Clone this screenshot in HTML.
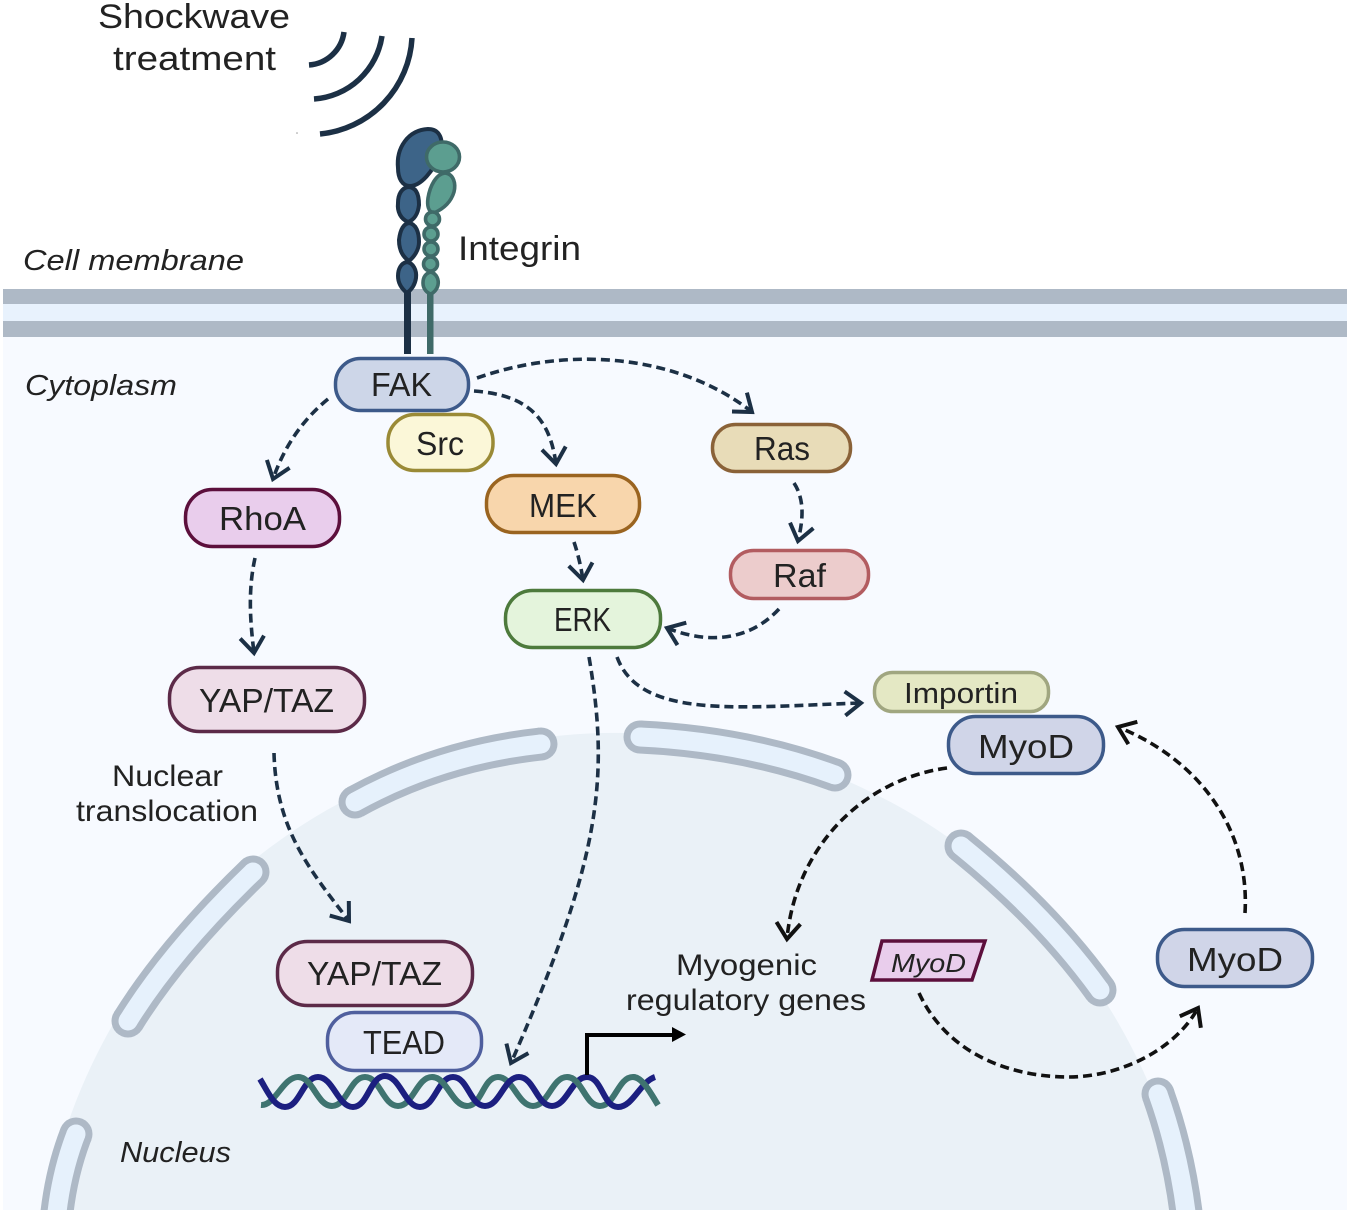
<!DOCTYPE html>
<html><head><meta charset="utf-8"><style>
html,body{margin:0;padding:0;background:#fff;width:1350px;height:1214px;overflow:hidden}
svg{display:block;overflow:hidden}
text{font-family:"Liberation Sans",sans-serif;fill:#222}
.i{font-style:italic}
.n{stroke-width:3.5}
.a{fill:none;stroke:#1c3045;stroke-width:3.6;stroke-dasharray:9 5}
.b{stroke:#111}
.po{fill:none;stroke:#aeb9c6;stroke-width:33}
.pi{fill:none;stroke:#e6f1fc;stroke-width:19}
.pc{fill:#aeb9c6}
.pd{fill:#e6f1fc}
</style></head><body>
<svg width="1350" height="1214" viewBox="0 0 1350 1214" xmlns="http://www.w3.org/2000/svg">
<defs>
<marker id="h" markerUnits="userSpaceOnUse" markerWidth="32" markerHeight="32" refX="23" refY="16" orient="auto"><path d="M7 4 L23 16 L7 28" fill="none" stroke="#1c3045" stroke-width="4"/></marker>
<marker id="k" markerUnits="userSpaceOnUse" markerWidth="32" markerHeight="32" refX="23" refY="16" orient="auto"><path d="M7 4 L23 16 L7 28" fill="none" stroke="#111" stroke-width="4"/></marker>
</defs>
<rect width="1350" height="1214" fill="#fff"/>
<rect x="3" y="337" width="1344" height="873" fill="#f7faff"/>
<path d="M45.2 1210 A580 580 0 0 1 1186.8 1210 Z" fill="#eaf1f7"/>
<g>
<circle class="pc" cx="355" cy="802" r="16.500"/><circle class="pc" cx="541" cy="744" r="16.500"/>
<circle class="pc" cx="640" cy="737" r="16.500"/><circle class="pc" cx="835" cy="775" r="16.500"/>
<circle class="pc" cx="961" cy="846" r="16.500"/><circle class="pc" cx="1100" cy="990" r="16.500"/>
<circle class="pc" cx="1158" cy="1094" r="16.500"/>
<circle class="pc" cx="253" cy="872" r="16.500"/><circle class="pc" cx="128" cy="1021" r="16.500"/>
<circle class="pc" cx="76" cy="1134" r="16.500"/>
<path class="po" d="M355 802 Q440 755 541 744"/>
<path class="po" d="M640 737 Q745 742 835 775"/>
<path class="po" d="M961 846 Q1046 915 1100 990"/>
<path class="po" d="M1158 1094 Q1178 1150 1186 1212"/>
<path class="po" d="M253 872 Q172 950 128 1021"/>
<path class="po" d="M76 1134 Q62 1170 57 1212"/>
<circle class="pd" cx="355" cy="802" r="9.500"/><circle class="pd" cx="541" cy="744" r="9.500"/>
<circle class="pd" cx="640" cy="737" r="9.500"/><circle class="pd" cx="835" cy="775" r="9.500"/>
<circle class="pd" cx="961" cy="846" r="9.500"/><circle class="pd" cx="1100" cy="990" r="9.500"/>
<circle class="pd" cx="1158" cy="1094" r="9.500"/>
<circle class="pd" cx="253" cy="872" r="9.500"/><circle class="pd" cx="128" cy="1021" r="9.500"/>
<circle class="pd" cx="76" cy="1134" r="9.500"/>
<path class="pi" d="M355 802 Q440 755 541 744"/>
<path class="pi" d="M640 737 Q745 742 835 775"/>
<path class="pi" d="M961 846 Q1046 915 1100 990"/>
<path class="pi" d="M1158 1094 Q1178 1150 1186 1212"/>
<path class="pi" d="M253 872 Q172 950 128 1021"/>
<path class="pi" d="M76 1134 Q62 1170 57 1212"/>
</g>
<rect x="0" y="1210" width="1350" height="4" fill="#fff"/>
<rect x="0" y="0" width="3" height="1214" fill="#fff"/>
<rect x="3" y="289" width="1344" height="15" fill="#aeb9c6"/>
<rect x="3" y="304" width="1344" height="17" fill="#e8f2fd"/>
<rect x="3" y="321" width="1344" height="16" fill="#aeb9c6"/>

<g fill="none" stroke="#1c3045" stroke-width="5.5">
<path d="M309 65 A38 38 0 0 0 344 32"/>
<path d="M314 99 A74 74 0 0 0 382 36"/>
<path d="M320 134 A102 102 0 0 0 412 38"/>
</g>
<circle cx="297" cy="133" r="0.8" fill="#999"/>

<rect x="404" y="290" width="7" height="64" fill="#1c3045"/>
<rect x="427" y="290" width="6.500" height="64" fill="#3f6a68"/>
<g fill="#3d6488" stroke="#1c3045" stroke-width="4">
<path d="M398 168 C396 148 408 130 428 129 C440 129 444 140 440 152 C434 172 420 186 410 186 C402 186 398 178 398 168Z"/>
<path d="M408 187 C416 187 419 194 419 205 C418 214 414 220 408 222 C401 219 397 212 398 203 C398 194 402 188 408 187Z"/>
<path d="M409 223 C416 224 419 232 419 242 C419 250 414 257 409 261 C403 257 399 250 399 240 C400 231 403 224 409 223Z"/>
<path d="M407 262 C413 263 417 270 416 278 C415 285 411 290 407 293 C402 289 398 284 398 276 C398 269 401 263 407 262Z"/>
</g>
<g fill="#5c9e90" stroke="#3f6a68" stroke-width="3.6">
<path d="M445 173 C454 174 456 184 454 192 C451 202 443 209 434 213 C428 212 427 205 428 198 C430 186 436 174 445 173Z"/>
<circle cx="432.500" cy="219" r="7"/>
<circle cx="431" cy="234" r="7"/>
<circle cx="431" cy="249" r="7"/>
<circle cx="430.500" cy="264" r="7"/>
<path d="M431 272 C437 274 439 280 438 285 C437 290 433 293 431 294 C427 293 423 289 423 283 C423 277 426 273 431 272Z"/>
<ellipse cx="443" cy="157" rx="16.500" ry="15"/>
</g>

<rect x="335.500" y="358.500" width="133" height="52" rx="25" fill="#cdd6e8" stroke="#3d5a8a" class="n"/>
<rect x="388" y="414.500" width="105" height="56" rx="27" fill="#fbf7d8" stroke="#9a8a36" class="n"/>
<rect x="185.500" y="489.500" width="154" height="57" rx="27" fill="#e9cdec" stroke="#5c0f3c" class="n"/>
<rect x="486.500" y="475.500" width="153" height="57" rx="27" fill="#f8d6ac" stroke="#9a6420" class="n"/>
<rect x="712.500" y="424.500" width="138" height="47" rx="23" fill="#e8dcb8" stroke="#8a6238" class="n"/>
<rect x="730.500" y="550.500" width="138" height="48" rx="23" fill="#eccccc" stroke="#b25c60" class="n"/>
<rect x="505.500" y="590.500" width="155" height="57" rx="27" fill="#e4f4dc" stroke="#4d7a3c" class="n"/>
<rect x="169.500" y="667.500" width="195" height="64" rx="30" fill="#eedde8" stroke="#5c2a48" class="n"/>
<rect x="874.500" y="672.500" width="174" height="39" rx="18" fill="#e4e8c4" stroke="#a0a680" class="n"/>
<rect x="948.500" y="716.500" width="155" height="57" rx="27" fill="#d0d5e8" stroke="#3d5a8a" class="n"/>
<rect x="1157.500" y="929.500" width="155" height="57" rx="27" fill="#d0d5e8" stroke="#3d5a8a" class="n"/>
<rect x="277.500" y="941.500" width="195" height="64" rx="30" fill="#eedde8" stroke="#5c2a48" class="n"/>
<rect x="327.500" y="1012.500" width="154" height="58" rx="27" fill="#e4e9f8" stroke="#4f5f9e" class="n"/>
<path d="M882 941 L985 941 L972 980 L872 980Z" fill="#e9cdec" stroke="#5c0f3c" stroke-width="3.5"/>

<path class="a" marker-end="url(#h)" d="M328 399 Q290 430 273 479"/>
<path class="a" marker-end="url(#h)" d="M474 391 C530 395 550 420 556 464"/>
<path class="a" marker-end="url(#h)" d="M477 378 C570 345 680 355 752 412"/>
<path class="a" marker-end="url(#h)" d="M794 483 C805 500 803 520 798 541"/>
<path class="a" marker-end="url(#h)" d="M574 542 Q580 560 583 580"/>
<path class="a" marker-end="url(#h)" d="M255 558 C248 590 250 620 254 653"/>
<path class="a" marker-end="url(#h)" d="M779 609 C750 640 710 645 667 628"/>
<path class="a" marker-end="url(#h)" d="M617 657 C640 720 740 707 861 703"/>
<path class="a" marker-end="url(#h)" d="M589 657 C610 780 600 860 511 1063"/>
<path class="a" marker-end="url(#h)" d="M274 753 C276 830 310 870 349 921"/>
<path class="a b" marker-end="url(#k)" d="M947 768 C860 780 795 850 787 939"/>
<path class="a b" marker-end="url(#k)" d="M919 993 C950 1060 1020 1077 1068 1077 C1120 1077 1175 1050 1198 1008"/>
<path class="a b" marker-end="url(#k)" d="M1245 913 C1250 830 1200 760 1118 727"/>

<path d="M261 1105 C275 1106 283 1077 298 1077 C313 1077 317 1106 332 1106 C347 1106 350 1077 365 1077 C380 1077 383 1106 398 1106 C413 1106 417 1077 432 1077 C447 1077 452 1106 467 1106 C482 1106 483 1077 498 1077 C513 1077 518 1106 533 1106 C548 1106 552 1077 567 1077 C582 1077 585 1106 600 1106 C615 1106 618 1077 633 1077 C642 1077 650 1092 658 1105" fill="none" stroke="#3f7470" stroke-width="6"/>
<path d="M260 1079 C268 1092 274 1107 285 1107 C300 1107 303 1077 318 1077 C333 1077 338 1107 353 1107 C368 1107 370 1076 385 1076 C400 1076 405 1107 420 1107 C435 1107 438 1077 453 1077 C468 1077 470 1106 485 1106 C500 1106 504 1077 519 1077 C534 1077 537 1106 552 1106 C567 1106 572 1077 587 1077 C602 1077 603 1107 618 1107 C633 1107 640 1082 655 1077" fill="none" stroke="#1c1f80" stroke-width="6"/>
<path d="M298 1077 C313 1077 317 1106 332 1106 M432 1077 C447 1077 452 1106 467 1106 M567 1077 C582 1077 585 1106 600 1106 M633 1077 C642 1077 650 1092 658 1105" fill="none" stroke="#3f7470" stroke-width="6"/>
<path d="M587 1075 V1035 H674" fill="none" stroke="#000" stroke-width="4"/>
<path d="M672 1027 L686 1034.500 L672 1042Z" fill="#000"/>

<text x="98" y="28" font-size="34" textLength="192" lengthAdjust="spacingAndGlyphs">Shockwave</text>
<text x="113" y="70" font-size="34" textLength="163" lengthAdjust="spacingAndGlyphs">treatment</text>
<text x="23" y="270" font-size="29" class="i" textLength="221" lengthAdjust="spacingAndGlyphs">Cell membrane</text>
<text x="458" y="260" font-size="34" textLength="123" lengthAdjust="spacingAndGlyphs">Integrin</text>
<text x="25" y="395" font-size="29" class="i" textLength="152" lengthAdjust="spacingAndGlyphs">Cytoplasm</text>
<text x="371" y="396" font-size="33" textLength="61" lengthAdjust="spacingAndGlyphs">FAK</text>
<text x="416" y="455" font-size="33" textLength="48" lengthAdjust="spacingAndGlyphs">Src</text>
<text x="219" y="530" font-size="33" textLength="87" lengthAdjust="spacingAndGlyphs">RhoA</text>
<text x="529" y="517" font-size="33" textLength="68" lengthAdjust="spacingAndGlyphs">MEK</text>
<text x="754" y="460" font-size="33" textLength="56" lengthAdjust="spacingAndGlyphs">Ras</text>
<text x="773" y="587" font-size="33" textLength="53" lengthAdjust="spacingAndGlyphs">Raf</text>
<text x="554" y="631" font-size="33" textLength="57" lengthAdjust="spacingAndGlyphs">ERK</text>
<text x="199" y="712" font-size="33" textLength="135" lengthAdjust="spacingAndGlyphs">YAP/TAZ</text>
<text x="904" y="703" font-size="29" textLength="114" lengthAdjust="spacingAndGlyphs">Importin</text>
<text x="978" y="758" font-size="33" textLength="96" lengthAdjust="spacingAndGlyphs">MyoD</text>
<text x="1187" y="971" font-size="33" textLength="96" lengthAdjust="spacingAndGlyphs">MyoD</text>
<text x="307" y="985" font-size="33" textLength="135" lengthAdjust="spacingAndGlyphs">YAP/TAZ</text>
<text x="363" y="1054" font-size="33" textLength="82" lengthAdjust="spacingAndGlyphs">TEAD</text>
<text x="112" y="786" font-size="30" textLength="111" lengthAdjust="spacingAndGlyphs">Nuclear</text>
<text x="76" y="821" font-size="30" textLength="182" lengthAdjust="spacingAndGlyphs">translocation</text>
<text x="676" y="975" font-size="30" textLength="141" lengthAdjust="spacingAndGlyphs">Myogenic</text>
<text x="626" y="1010" font-size="30" textLength="240" lengthAdjust="spacingAndGlyphs">regulatory genes</text>
<text x="891" y="972" font-size="26" class="i" textLength="75" lengthAdjust="spacingAndGlyphs">MyoD</text>
<text x="120" y="1162" font-size="29" class="i" textLength="111" lengthAdjust="spacingAndGlyphs">Nucleus</text>
</svg>
</body></html>
